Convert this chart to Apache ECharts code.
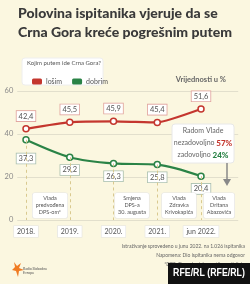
<!DOCTYPE html>
<html><head><meta charset="utf-8">
<script src="https://cdn.jsdelivr.net/npm/echarts@6/dist/echarts.min.js"></script>
<style>html,body{margin:0;padding:0;background:#fbf7e0;}#c{width:250px;height:284px;}</style>
</head><body><div id="c"></div>
<script>
const categories = ['2018.', '2019.', '2020.', '2021.', 'jun 2022.'];
const losim = [42.4, 45.5, 45.9, 45.4, 51.6];
const dobrim = [37.3, 29.2, 26.3, 25.8, 20.4];
const yTicks = [0, 20, 40, 60];
const events = [
  {x: 50, text: 'Vlada\npredvođena\nDPS-om*'},
  {x: 132, text: 'Smjena\nDPS-a\n30. augusta'},
  {x: 179, text: 'Vlada\nZdravka\nKrivokapića'},
  {x: 219, text: 'Vlada\nDritana\nAbazovića'}
];
const RED = '#c4362e', GREEN = '#2a8346';
const FONT = 'Lato, "Open Sans", sans-serif';
const fmt = v => String(v).replace('.', ',');

const chart = echarts.init(document.getElementById('c'), null, {renderer: 'canvas'});
const redData = losim.map((v, i) => [i, v]);
const greenData = dobrim.map((v, i) => i === 0 ? {value: [i, v], label: {offset: [0, 6]}} : [i, v]);

const graphics = [
  {type: 'text', left: 'center', top: 4, style: {text: 'Polovina ispitanika vjeruje da se\nCrna Gora kreće pogrešnim putem', font: '900 14px Lato', fill: '#3a3a3a', lineHeight: 19, align: 'center'}},
  {type: 'rect', shape: {x: 22, y: 58, width: 81, height: 27, r: 3}, style: {fill: '#fff', stroke: '#eee'}},
  {type: 'text', x: 27, y: 60, style: {text: 'Kojim putem ide Crna Gora?', font: '6px ' + FONT, fill: '#555'}},
  {type: 'text', x: 226, y: 76, style: {text: 'Vrijednosti u %', font: 'bold 7.5px ' + FONT, fill: '#666', align: 'right'}},
  {type: 'rect', shape: {x: 172, y: 124, width: 62, height: 39, r: 3}, style: {fill: '#fff', stroke: '#e8e8e8'}, z: 50},
  {type: 'text', x: 203, y: 127, z: 51, style: {text: 'Radom Vlade', font: '7px ' + FONT, fill: '#666', align: 'center'}},
  {type: 'text', x: 203, y: 139, z: 51, style: {rich: {a: {font: '7px ' + FONT, fill: '#666'}, r: {font: '900 8px ' + FONT, fill: RED}}, text: '{a|nezadovoljno }{r|57%}', align: 'center'}},
  {type: 'text', x: 203, y: 151, z: 51, style: {rich: {a: {font: '7px ' + FONT, fill: '#666'}, g: {font: '900 8px ' + FONT, fill: GREEN}}, text: '{a|zadovoljno }{g|24%}', align: 'center'}},
  {type: 'line', shape: {x1: 227, y1: 163, x2: 227, y2: 183}, style: {stroke: '#888', lineWidth: 1.5}, z: 50},
  {type: 'polygon', shape: {points: [[223, 179], [231, 179], [227, 186]]}, style: {fill: '#888'}, z: 50},
  {type: 'text', x: 245, y: 244, style: {text: 'Istraživanje sprovedeno u junu 2022. na 1.026 ispitanika', font: '5px ' + FONT, fill: '#666', align: 'right'}},
  {type: 'text', x: 245, y: 253, style: {text: 'Napomena: Dio ispitanika nema odgovor', font: '5px ' + FONT, fill: '#666', align: 'right'}},
  {type: 'text', x: 245, y: 262, style: {text: '*DPS: Demokratska partija socijalista', font: '5px ' + FONT, fill: '#666', align: 'right'}},
  {type: 'polygon', shape: {points: [[14, 262], [17, 266], [21, 263], [19, 268], [24, 270], [19, 271], [18, 277], [16, 271], [12, 270], [15, 267]]}, style: {fill: '#f07b22'}},
  {type: 'text', x: 23, y: 267, style: {text: 'Radio Slobodna\nEvropa', font: '3.5px ' + FONT, fill: '#555', lineHeight: 4}},
  {type: 'rect', shape: {x: 168, y: 263, width: 82, height: 21}, style: {fill: '#111'}, z: 100},
  {type: 'text', x: 209, y: 267, scaleX: 0.8, z: 101, style: {text: 'RFE/RL (RFE/RL)', font: 'bold 11px "Liberation Sans", Arial, sans-serif', fill: '#fff', align: 'center'}}
];
events.forEach(e => {
  graphics.push({type: 'text', x: e.x, y: 193, z: 40, style: {text: e.text, font: '5.5px ' + FONT, fill: '#555', align: 'center', lineHeight: 7, backgroundColor: '#fff', borderColor: '#e4e4e4', borderWidth: 0.6, borderRadius: 2, padding: [2, 3]}});
});

chart.setOption({
  backgroundColor: '#fbf7e0',
  animation: false,
  textStyle: {fontFamily: FONT},
  grid: {left: 17.25, right: 11.8, top: 91, bottom: 64},
  legend: {
    left: 27, top: 73, itemWidth: 10, itemHeight: 6, itemGap: 10,
    icon: 'roundRect',
    textStyle: {fontSize: 7, color: '#555', padding: [0, 0, 0, -1]},
    data: [
      {name: 'lošim', itemStyle: {color: RED, borderWidth: 0}},
      {name: 'dobrim', itemStyle: {color: GREEN, borderWidth: 0}}
    ]
  },
  xAxis: {
    type: 'value', min: -0.2, max: 4.85,
    splitLine: {show: false}, axisLine: {show: false}, axisTick: {show: false},
    axisLabel: {
      customValues: categories.map((c, i) => i),
      formatter: v => categories[Math.round(v)],
      fontSize: 7, color: '#555', margin: 6,
      backgroundColor: '#fff', borderColor: '#e2e2e2', borderWidth: 0.6, padding: [2, 3]
    }
  },
  yAxis: {
    type: 'value', min: 0, max: 60, interval: 20,
    axisLine: {show: false}, axisTick: {show: false},
    axisLabel: {fontSize: 7.5, color: '#888', margin: 4, align: 'right', formatter: v => yTicks.includes(v) ? String(v) : ''},
    splitLine: {lineStyle: {color: '#e2dfcc', width: 1}}
  },
  graphic: graphics,
  series: [
    {
      name: 'lošim', type: 'line', data: redData, smooth: 0.15,
      color: RED, lineStyle: {width: 2.2, color: RED},
      symbol: 'circle', symbolSize: 6,
      itemStyle: {color: '#fff', borderColor: RED, borderWidth: 1.5},
      label: {show: true, position: 'top', distance: 4, formatter: p => fmt(p.value[1]), fontSize: 7.5, color: '#555',
        backgroundColor: '#fff', borderColor: '#e0a19b', borderWidth: 0.8, padding: [1, 2]},
      z: 5
    },
    {
      name: 'dobrim', type: 'line', data: greenData, smooth: 0.3,
      color: GREEN, lineStyle: {width: 2.2, color: GREEN},
      symbol: 'circle', symbolSize: 6,
      itemStyle: {color: '#fff', borderColor: GREEN, borderWidth: 1.5},
      label: {show: true, position: 'bottom', distance: 4, formatter: p => fmt(p.value[1]), fontSize: 7.5, color: '#555',
        backgroundColor: '#fff', borderColor: '#a9bfae', borderWidth: 0.8, padding: [1, 2]},
      markLine: {
        silent: true, symbol: 'none', label: {show: false},
        lineStyle: {color: '#d9c98f', type: [3, 3], width: 1},
        data: dobrim.map((v, i) => [{coord: [i, v]}, {coord: [i, 0]}])
      },
      z: 4
    }
  ]
});
</script></body></html>
